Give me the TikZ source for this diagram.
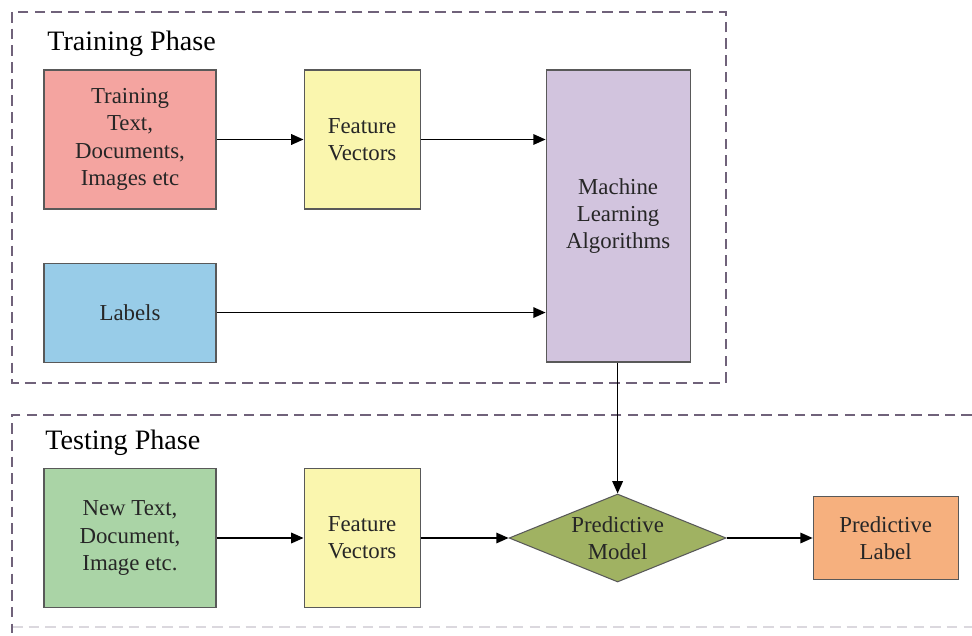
\documentclass[tikz,border=0pt]{standalone}
\usepackage{fontspec}
\setmainfont{Liberation Serif}
\usetikzlibrary{positioning,shapes.geometric,arrows.meta}
\definecolor{framegray}{RGB}{112,98,122}
\definecolor{trainred}{RGB}{244,164,160}
\definecolor{featyellow}{RGB}{250,246,174}
\definecolor{mlpurple}{RGB}{210,196,222}
\definecolor{labblue}{RGB}{152,204,232}
\definecolor{newgreen}{RGB}{170,212,166}
\definecolor{modelolive}{RGB}{160,178,98}
\definecolor{predorange}{RGB}{246,176,126}

\begin{document}
\begin{tikzpicture}[
    box/.style={draw=black!65, line width=0.6pt, align=center, inner sep=2pt,
        font=\fontsize{13}{15.5}\selectfont, text=black!85},
    phase/.style={draw=framegray, line width=1pt, dash pattern=on 6pt off 3.5pt},
    phasetitle/.style={anchor=west, inner sep=0pt, font=\fontsize{16}{19}\selectfont},
    flow/.style={-{Triangle[length=7pt,width=6pt]}, line width=0.9pt}
]
    \useasboundingbox (0,0) rectangle (19.44,12.7);
    \draw[phase] (0.24,12.46) rectangle (14.52,5.04);
    \draw[phase] (19.44,4.4) -- (0.24,4.4) -- (0.24,0.04);
    \draw[phase, draw opacity=0.25] (0.24,0.16) -- (19.44,0.16);
    \node[phasetitle] (trainttl) at (0.94,11.82) {Training Phase};
    \node[phasetitle] (testttl) at (0.9,3.84) {Testing Phase};

    \node[box, fill=trainred, minimum width=3.44cm, minimum height=2.78cm] (train) at (2.6,9.91)
        {Training\\Text,\\Documents,\\Images etc};
    \node[box, fill=featyellow, minimum width=2.32cm, minimum height=2.78cm, right=1.74cm of train] (feat1)
        {Feature\\Vectors};
    \node[box, fill=mlpurple, minimum width=2.88cm, minimum height=5.84cm,
        right=2.5cm of feat1.north east, anchor=north west] (ml) {Machine\\Learning\\Algorithms};
    \node[box, fill=labblue, minimum width=3.44cm, minimum height=1.98cm, below=1.06cm of train] (labels)
        {Labels};

    \node[box, fill=newgreen, minimum width=3.44cm, minimum height=2.78cm] (newtext) at (2.6,1.94)
        {New Text,\\Document,\\Image etc.};
    \node[box, fill=featyellow, minimum width=2.32cm, minimum height=2.78cm, right=1.74cm of newtext] (feat2)
        {Feature\\Vectors};
    \node[box, diamond, fill=modelolive, shape aspect=2.47, minimum width=4.34cm, minimum height=1.76cm,
        inner sep=-5pt, right=1.76cm of feat2] (model) {Predictive\\Model};
    \node[box, fill=predorange, minimum width=2.9cm, minimum height=1.66cm, right=1.72cm of model] (predlabel)
        {Predictive\\Label};

    \draw[flow] (train) -- (feat1);
    \draw[flow] (feat1) -- (feat1 -| ml.west);
    \draw[flow] (labels) -- (labels -| ml.west);
    \draw[flow] (model.north |- ml.south) -- (model.north);
    \draw[flow] (newtext) -- (feat2);
    \draw[flow] (feat2) -- (model);
    \draw[flow] (model) -- (predlabel);
\end{tikzpicture}
\end{document}
